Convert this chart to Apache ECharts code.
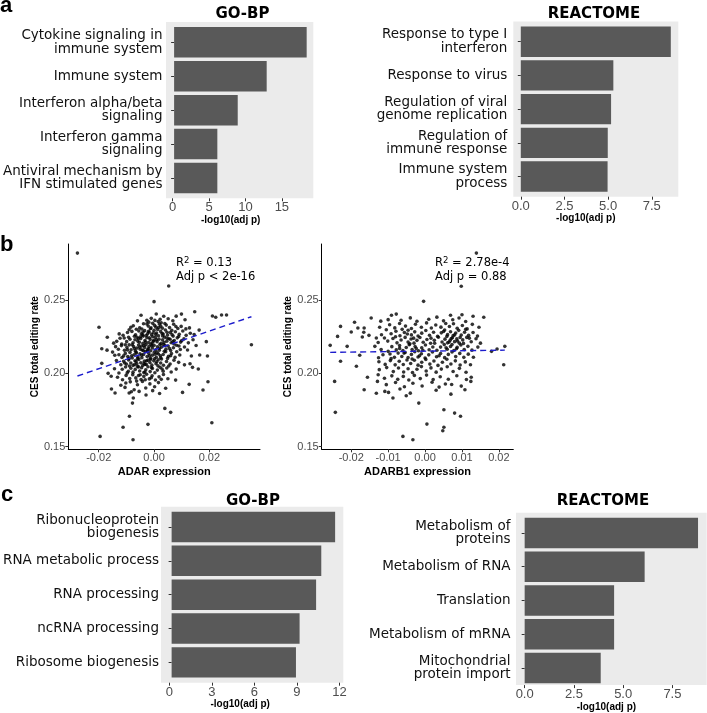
<!DOCTYPE html>
<html>
<head>
<meta charset="utf-8">
<script src="https://cdn.jsdelivr.net/npm/echarts@6/dist/echarts.min.js"></script>
<style>
html,body{margin:0;padding:0;background:#fff;}
#chart{width:707px;height:713px;}
</style>
</head>
<body>
<div id="chart"></div>
<script>
// ---------- Panel a (bar charts) ----------
const goA_terms = ["Cytokine signaling in\nimmune system","Immune system","Interferon alpha/beta\nsignaling","Interferon gamma\nsignaling","Antiviral mechanism by\nIFN stimulated genes"];
const goA_vals = [18.4, 12.85, 8.83, 6.0, 6.0];
const goA_ticks = [0, 5, 10, 15];

const reA_terms = ["Response to type I\ninterferon","Response to virus","Regulation of viral\ngenome replication","Regulation of\nimmune response","Immune system\nprocess"];
const reA_vals = [8.59, 5.30, 5.17, 4.98, 4.97];
const reA_ticks = [0, 2.5, 5, 7.5];

// ---------- Panel c (bar charts) ----------
const goC_terms = ["Ribonucleoprotein\nbiogenesis","RNA metabolic process","RNA processing","ncRNA processing","Ribosome biogenesis"];
const goC_vals = [11.69, 10.70, 10.33, 9.15, 8.89];
const goC_ticks = [0, 3, 6, 9, 12];

const reC_terms = ["Metabolism of\nproteins","Metabolism of RNA","Translation","Metabolism of mRNA","Mitochondrial\nprotein import"];
const reC_vals = [8.80, 6.09, 4.54, 4.54, 3.86];
const reC_ticks = [0, 2.5, 5, 7.5];

// ---------- Panel b (scatter plots) ----------
const scatterYTicks = [0.15, 0.20, 0.25];
const adarXTicks = [-0.02, 0.00, 0.02];
const adarb1XTicks = [-0.02, -0.01, 0.00, 0.01, 0.02];

// [ADAR expression, CES total editing rate]
const adarPoints = [
[-0.0277,0.2820],[0.0053,0.2596],[0.0000,0.2489],[-0.0199,0.2314],[-0.0169,0.2246],[-0.0189,0.2168],[-0.0170,0.2158],[-0.0189,0.2068],[-0.0166,0.2000],[-0.0154,0.1893],[-0.0141,0.1866],[-0.0089,0.1707],[-0.0112,0.1632],[-0.0195,0.1570],[-0.0076,0.1547],[-0.0022,0.1652],[-0.0078,0.1797],[-0.0075,0.1832],[-0.0054,0.1877],[-0.0029,0.1852],[-0.0047,0.2396],[0.0039,0.1761],[0.0060,0.1734],[0.0209,0.1663],[0.0352,0.2195],[0.0244,0.2398],[0.0262,0.2398],[0.0223,0.2382],[0.0211,0.2391],[0.0189,0.2216],[0.0193,0.2118],[0.0195,0.1943],[0.0177,0.1886],[0.0139,0.2041],[0.0127,0.1925],[0.0163,0.2295],[0.0165,0.2125],[0.0147,0.2420],[0.0099,0.2404],[0.0103,0.1870],[0.0042,0.1898],[0.0078,0.1954],[0.0093,0.2125],[0.0121,0.2159],[0.0135,0.2118],[-0.0082,0.1874],
[0.0145,0.2265],[0.0152,0.2190],[0.0130,0.2065],[0.0160,0.2030],
[-0.0010,0.2375],[0.0008,0.2405],[0.0022,0.2368],[0.0035,0.2389],[0.0051,0.2372],[0.0068,0.2359],[0.0080,0.2390],[-0.0026,0.2362],[0.0015,0.2354],[0.0112,0.2365],[-0.0060,0.2358],
[-0.0075,0.2325],[-0.0052,0.2310],[-0.0038,0.2338],[-0.0021,0.2322],[-0.0005,0.2341],[0.0007,0.2315],[0.0019,0.2336],[0.0030,0.2308],[0.0044,0.2329],[0.0056,0.2312],[0.0071,0.2335],[0.0086,0.2306],[0.0098,0.2320],[-0.0084,0.2314],[-0.0013,0.2304],[0.0026,0.2345],[-0.0044,0.2302],[0.0128,0.2310],[0.0002,0.2327],[-0.0090,0.2297],
[-0.0112,0.2260],[-0.0096,0.2278],[-0.0080,0.2286],[-0.0067,0.2263],[-0.0055,0.2289],[-0.0046,0.2270],[-0.0034,0.2291],[-0.0028,0.2258],[-0.0018,0.2280],[-0.0009,0.2264],[0.0000,0.2294],[0.0009,0.2275],[0.0016,0.2256],[0.0024,0.2286],[0.0033,0.2268],[0.0041,0.2296],[0.0049,0.2261],[0.0059,0.2279],[0.0069,0.2254],[0.0077,0.2284],[0.0091,0.2266],[0.0104,0.2289],[0.0116,0.2259],[-0.0071,0.2253],[-0.0039,0.2254],[-0.0003,0.2277],[0.0029,0.2272],[0.0064,0.2293],
[-0.0135,0.2218],[-0.0123,0.2239],[-0.0108,0.2241],[-0.0099,0.2216],[-0.0087,0.2232],[-0.0076,0.2208],[-0.0069,0.2229],[-0.0061,0.2246],[-0.0053,0.2212],[-0.0048,0.2237],[-0.0040,0.2205],[-0.0033,0.2224],[-0.0026,0.2243],[-0.0020,0.2210],[-0.0014,0.2230],[-0.0007,0.2207],[-0.0001,0.2226],[0.0005,0.2245],[0.0011,0.2215],[0.0018,0.2233],[0.0025,0.2204],[0.0031,0.2228],[0.0038,0.2247],[0.0046,0.2219],[0.0054,0.2236],[0.0062,0.2209],[0.0073,0.2224],[0.0084,0.2242],[0.0096,0.2213],[0.0108,0.2235],[0.0124,0.2208],[0.0141,0.2229],[-0.0117,0.2200],
[-0.0139,0.2182],[-0.0129,0.2164],[-0.0118,0.2189],[-0.0107,0.2157],[-0.0098,0.2176],[-0.0090,0.2194],[-0.0083,0.2161],[-0.0074,0.2183],[-0.0068,0.2153],[-0.0062,0.2172],[-0.0056,0.2193],[-0.0050,0.2164],[-0.0045,0.2186],[-0.0039,0.2155],[-0.0034,0.2177],[-0.0029,0.2196],[-0.0023,0.2162],[-0.0018,0.2184],[-0.0012,0.2154],[-0.0006,0.2173],[0.0000,0.2191],[0.0006,0.2160],[0.0012,0.2181],[0.0019,0.2158],[0.0027,0.2179],[0.0034,0.2197],[0.0043,0.2165],[0.0051,0.2186],[0.0060,0.2156],[0.0070,0.2174],[0.0081,0.2192],[0.0095,0.2163],[0.0110,0.2180],
[-0.0150,0.2145],[-0.0142,0.2123],[-0.0127,0.2127],[-0.0116,0.2108],[-0.0104,0.2136],[-0.0095,0.2114],[-0.0087,0.2142],[-0.0079,0.2105],[-0.0072,0.2127],[-0.0065,0.2146],[-0.0058,0.2112],[-0.0051,0.2133],[-0.0044,0.2107],[-0.0038,0.2129],[-0.0031,0.2148],[-0.0025,0.2115],[-0.0019,0.2136],[-0.0012,0.2103],[-0.0006,0.2124],[0.0001,0.2144],[0.0008,0.2110],[0.0016,0.2132],[0.0024,0.2106],[0.0033,0.2128],[0.0042,0.2147],[0.0052,0.2116],[0.0063,0.2135],[0.0076,0.2109],[-0.0090,0.2102],
[-0.0120,0.2059],[-0.0110,0.2082],[-0.0100,0.2063],[-0.0092,0.2091],[-0.0084,0.2070],[-0.0076,0.2054],[-0.0069,0.2086],[-0.0062,0.2065],[-0.0055,0.2095],[-0.0048,0.2072],[-0.0041,0.2053],[-0.0035,0.2083],[-0.0028,0.2061],[-0.0022,0.2090],[-0.0015,0.2074],[-0.0008,0.2056],[-0.0001,0.2085],[0.0007,0.2066],[0.0015,0.2093],[0.0024,0.2071],[0.0034,0.2055],[0.0045,0.2081],[0.0058,0.2064],[0.0072,0.2090],[0.0089,0.2075],[0.0110,0.2058],[-0.0136,0.2088],
[-0.0127,0.2002],[-0.0115,0.2028],[-0.0103,0.2043],[-0.0093,0.2014],[-0.0084,0.2035],[-0.0076,0.2008],[-0.0068,0.2027],[-0.0060,0.2046],[-0.0052,0.2016],[-0.0045,0.2038],[-0.0037,0.2006],[-0.0030,0.2024],[-0.0022,0.2045],[-0.0014,0.2012],[-0.0006,0.2033],[0.0003,0.2004],[0.0012,0.2022],[0.0022,0.2041],[0.0033,0.2015],[0.0046,0.2036],[0.0062,0.2009],[0.0080,0.2029],[-0.0143,0.2031],
[-0.0132,0.1973],[-0.0114,0.1956],[-0.0101,0.1986],[-0.0088,0.1964],[-0.0077,0.1991],[-0.0066,0.1969],[-0.0056,0.1985],[-0.0047,0.1958],[-0.0037,0.1979],[-0.0027,0.1994],[-0.0017,0.1962],[-0.0007,0.1984],[0.0005,0.1955],[0.0018,0.1976],[0.0034,0.1992],[0.0050,0.1963],[-0.0155,0.1980],
[-0.0102,0.1934],[-0.0105,0.1904],[-0.0060,0.1922],[-0.0042,0.1945],[-0.0030,0.1900],[-0.0086,0.1942],[-0.0015,0.1928],[0.0002,0.1909],[0.0016,0.1937],[-0.0120,0.1919],
[-0.0090,0.1866],[-0.0072,0.1888],[-0.0005,0.1882],[0.0020,0.1863],
[-0.0064,0.2301],[-0.0024,0.2269],[0.0013,0.2299],[0.0047,0.2240],[-0.0002,0.2219],[-0.0037,0.2190],[0.0021,0.2196],[-0.0059,0.2220],[0.0004,0.2130],[-0.0016,0.2119],[0.0037,0.2150],[-0.0043,0.2159],[-0.0071,0.2169],[0.0056,0.2169],[-0.0027,0.2086],[0.0010,0.2079],[-0.0056,0.2044],[-0.0009,0.2039],[0.0029,0.2030],[-0.0033,0.2009],[-0.0081,0.2120],[0.0068,0.2216],[0.0089,0.2251],[-0.0092,0.2246],[-0.0104,0.2195],[0.0003,0.2361],[0.0039,0.2340],[-0.0019,0.2349],[0.0079,0.2319],[-0.0005,0.2250],[0.0017,0.2313],[-0.0040,0.2282],[-0.0060,0.2100],[-0.0020,0.2169],[0.0023,0.2120],[0.0049,0.2102],[-0.0070,0.2060],[-0.0036,0.2069],[0.0002,0.2099],[0.0053,0.2050],[-0.0110,0.2119],[-0.0097,0.2003],[-0.0050,0.1990],[-0.0010,0.1970],[0.0026,0.1959],[-0.0063,0.1947],[-0.0032,0.1956],[0.0090,0.2186],[0.0100,0.2223],[0.0065,0.2264],[0.0115,0.2303],[0.0131,0.2273],[-0.0126,0.2269],[-0.0146,0.2206],[-0.0089,0.2050],[-0.0049,0.2249],[-0.0011,0.2199],[0.0036,0.2210],[0.0060,0.2120],[0.0082,0.2147],
[-0.0041,0.2262],[-0.0017,0.2243],[0.0009,0.2229],[-0.0031,0.2213],[-0.0008,0.2188],[0.0019,0.2171],[-0.0052,0.2178],[-0.0024,0.2152],[0.0011,0.2141],[-0.0045,0.2125],[-0.0013,0.2094],[0.0027,0.2098],[-0.0064,0.2138],[0.0040,0.2190],[0.0031,0.2255],[-0.0011,0.2310],[0.0047,0.2280],[-0.0057,0.2236],[-0.0079,0.2195],[-0.0033,0.2060],[0.0014,0.2051],[-0.0065,0.2080],[0.0058,0.2232],[0.0072,0.2200],[-0.0026,0.2337],[0.0024,0.2322],[-0.0096,0.2160],[-0.0106,0.2070],[0.0006,0.2265],[-0.0020,0.2287]
];
const adarFitX = [-0.0277, 0.0352];
const adarFitY = [0.1982, 0.2386];

// [ADARB1 expression, CES total editing rate]
const adarb1Points = [
[-0.0257,0.2191],[-0.0245,0.1945],[-0.0243,0.1734],[-0.0237,0.2252],[-0.0229,0.2320],[-0.0229,0.2082],[-0.0211,0.2184],[-0.0200,0.2282],[-0.0191,0.2348],[-0.0186,0.2048],[-0.0182,0.2309],[-0.0170,0.2248],[-0.0166,0.2280],[-0.0165,0.2309],[-0.0165,0.1888],[-0.0156,0.1973],[-0.0152,0.2259],[-0.0146,0.2377],[-0.0177,0.2123],[-0.0060,0.1570],[-0.0033,0.1547],[-0.0132,0.1864],[-0.0109,0.1877],[-0.0099,0.1870],[-0.0087,0.1832],[-0.0051,0.1847],[-0.0091,0.2396],[-0.0078,0.2404],[-0.0100,0.2366],[0.0139,0.2820],[0.0098,0.2594],[-0.0004,0.2491],[0.0216,0.2184],[0.0213,0.2059],[0.0195,0.2166],[0.0180,0.2150],[0.0159,0.2382],[0.0130,0.2389],[0.0100,0.2400],[0.0069,0.2396],[0.0124,0.1945],[0.0098,0.1913],[0.0055,0.1927],[-0.0017,0.1797],[0.0051,0.1752],[0.0080,0.1729],[0.0096,0.1707],[0.0005,0.1654],[0.0051,0.1632],[0.0048,0.1608],[0.0125,0.1973],
[-0.0065,0.2362],[-0.0040,0.2378],[-0.0022,0.2355],[0.0010,0.2369],[0.0032,0.2383],[0.0050,0.2358],[0.0075,0.2365],[0.0092,0.2377],[0.0110,0.2353],[-0.0120,0.2356],
[-0.0123,0.2314],[-0.0096,0.2331],[-0.0082,0.2310],[-0.0069,0.2340],[-0.0053,0.2322],[-0.0037,0.2306],[-0.0026,0.2335],[-0.0010,0.2314],[0.0004,0.2344],[0.0017,0.2309],[0.0029,0.2330],[0.0043,0.2315],[0.0056,0.2340],[0.0066,0.2319],[0.0077,0.2338],[0.0087,0.2307],[0.0101,0.2326],[0.0114,0.2303],[0.0128,0.2334],[0.0146,0.2314],
[-0.0118,0.2263],[-0.0105,0.2297],[-0.0092,0.2270],[-0.0079,0.2287],[-0.0068,0.2256],[-0.0056,0.2279],[-0.0046,0.2294],[-0.0037,0.2262],[-0.0028,0.2283],[-0.0019,0.2255],[-0.0009,0.2274],[0.0002,0.2292],[0.0012,0.2260],[0.0023,0.2280],[0.0034,0.2253],[0.0044,0.2276],[0.0053,0.2295],[0.0061,0.2264],[0.0069,0.2284],[0.0076,0.2257],[0.0083,0.2275],[0.0091,0.2293],[0.0098,0.2261],[0.0107,0.2280],[0.0118,0.2259],[0.0130,0.2278],[0.0142,0.2254],
[-0.0132,0.2241],[-0.0110,0.2241],[-0.0127,0.2210],[-0.0101,0.2220],[-0.0087,0.2238],[-0.0076,0.2208],[-0.0065,0.2227],[-0.0054,0.2245],[-0.0046,0.2213],[-0.0038,0.2234],[-0.0030,0.2206],[-0.0022,0.2225],[-0.0014,0.2244],[-0.0005,0.2212],[0.0005,0.2231],[0.0015,0.2205],[0.0025,0.2226],[0.0036,0.2246],[0.0046,0.2214],[0.0054,0.2233],[0.0061,0.2208],[0.0068,0.2225],[0.0074,0.2243],[0.0080,0.2216],[0.0086,0.2235],[0.0093,0.2206],[0.0102,0.2228],[0.0113,0.2245],[0.0125,0.2215],[0.0138,0.2236],[0.0150,0.2206],
[-0.0136,0.2184],[-0.0119,0.2163],[-0.0100,0.2150],[-0.0090,0.2182],[-0.0078,0.2160],[-0.0069,0.2189],[-0.0060,0.2156],[-0.0051,0.2176],[-0.0043,0.2195],[-0.0035,0.2162],[-0.0027,0.2183],[-0.0018,0.2154],[-0.0009,0.2174],[0.0001,0.2193],[0.0011,0.2161],[0.0021,0.2180],[0.0032,0.2157],[0.0042,0.2179],[0.0052,0.2196],[0.0060,0.2164],[0.0069,0.2183],[0.0078,0.2156],[0.0087,0.2177],[0.0097,0.2193],[0.0106,0.2162],[0.0116,0.2184],[0.0127,0.2158],[0.0143,0.2179],
[-0.0114,0.2127],[-0.0126,0.2106],[-0.0095,0.2132],[-0.0083,0.2109],[-0.0073,0.2138],[-0.0063,0.2115],[-0.0054,0.2142],[-0.0046,0.2108],[-0.0037,0.2129],[-0.0028,0.2147],[-0.0019,0.2111],[-0.0010,0.2134],[0.0000,0.2105],[0.0010,0.2126],[0.0020,0.2146],[0.0031,0.2113],[0.0042,0.2135],[0.0053,0.2107],[0.0063,0.2129],[0.0073,0.2146],[0.0083,0.2114],[0.0094,0.2136],[0.0105,0.2109],[0.0117,0.2131],[0.0131,0.2110],
[-0.0125,0.2079],[-0.0108,0.2061],[-0.0094,0.2087],[-0.0081,0.2058],[-0.0070,0.2082],[-0.0059,0.2060],[-0.0049,0.2091],[-0.0039,0.2067],[-0.0029,0.2089],[-0.0019,0.2056],[-0.0009,0.2076],[0.0002,0.2095],[0.0013,0.2063],[0.0024,0.2084],[0.0035,0.2054],[0.0047,0.2076],[0.0059,0.2096],[0.0070,0.2064],[0.0082,0.2085],[0.0095,0.2057],[0.0109,0.2078],[0.0123,0.2059],
[-0.0124,0.2025],[-0.0104,0.2039],[-0.0086,0.2012],[-0.0072,0.2036],[-0.0058,0.2009],[-0.0046,0.2031],[-0.0034,0.2005],[-0.0022,0.2028],[-0.0010,0.2046],[0.0003,0.2016],[0.0016,0.2037],[0.0030,0.2008],[0.0044,0.2029],[0.0060,0.2045],[0.0076,0.2013],[0.0093,0.2034],[0.0111,0.2007],
[-0.0127,0.1990],[-0.0110,0.1966],[-0.0090,0.1983],[-0.0074,0.1959],[-0.0059,0.1979],[-0.0044,0.1955],[-0.0029,0.1986],[-0.0013,0.1964],[0.0004,0.1988],[0.0022,0.1958],[0.0041,0.1977],[0.0063,0.1960],[0.0086,0.1984],[0.0112,0.1958],
[-0.0129,0.1945],[-0.0105,0.1923],[-0.0080,0.1938],[-0.0056,0.1909],[-0.0033,0.1932],[-0.0008,0.1914],[0.0019,0.1939],[0.0038,0.1906],[0.0072,0.1924],
[-0.0068,0.1893],[-0.0040,0.1865],[0.0030,0.1885],[0.0070,0.1858],[0.0108,0.1888],
[-0.0048,0.2268],[-0.0031,0.2240],[-0.0041,0.2201],[-0.0024,0.2170],[-0.0057,0.2138],[-0.0015,0.2120],[-0.0035,0.2098],[0.0059,0.2252],[0.0071,0.2238],[0.0080,0.2262],[0.0065,0.2213],[0.0088,0.2220],[0.0095,0.2245],[0.0073,0.2196],[0.0050,0.2285],[0.0104,0.2204],[0.0057,0.2174],[0.0085,0.2168],[-0.0069,0.2170],[-0.0080,0.2249],[0.0026,0.2205],[0.0016,0.2240],[-0.0006,0.2157],[0.0038,0.2120],[-0.0092,0.2100],[0.0110,0.2300],[0.0120,0.2240],[-0.0062,0.2300]
];
const adarb1FitX = [-0.0257, 0.0216];
const adarb1FitY = [0.2143, 0.2158];

// ---------- helpers ----------
const BAR_COLOR = '#595959';
const PANEL_BG = '#EBEBEB';
const TICK_COLOR = '#4D4D4D';
const CAT_FONT = 'DejaVu Sans';

const grids = [], xAxes = [], yAxes = [], series = [];

function barPanel(box, terms, vals, ticks, decimals, catMargin, nameGap, nameShift) {
  const vmax = Math.max.apply(null, vals);
  const mn = -0.05 * vmax, mx = 1.05 * vmax;
  const gBg = grids.length;
  grids.push({left: box.left, top: box.top, width: box.width, height: box.height,
    show: true, backgroundColor: PANEL_BG, borderWidth: 0, containLabel: false});
  xAxes.push({gridIndex: gBg, type: 'value', min: mn, max: mx,
    axisLine: {show: false}, splitLine: {show: false},
    axisTick: {show: true, length: 3, customValues: ticks, lineStyle: {color: '#333', width: 1}},
    axisLabel: {customValues: ticks, margin: 3, color: TICK_COLOR, fontSize: 13, fontFamily: 'Liberation Sans',
      formatter: v => v.toFixed(decimals)},
    name: '-log10(adj p)', nameLocation: 'middle', nameGap: nameGap,
    nameTextStyle: {fontSize: 10, fontWeight: 'bold', fontFamily: 'Liberation Sans', color: '#000',
      padding: [0, nameShift, 0, 0]}});
  yAxes.push({gridIndex: gBg, type: 'value', show: false, min: 0, max: 1});
  const inset = box.height * 0.1 / 5.2;
  const gB = grids.length;
  grids.push({left: box.left, top: box.top + inset, width: box.width, height: box.height - 2 * inset, containLabel: false});
  xAxes.push({gridIndex: gB, type: 'value', min: mn, max: mx, show: false});
  yAxes.push({gridIndex: gB, type: 'category', inverse: true, data: terms,
    axisLine: {show: false},
    axisTick: {show: true, length: 3, alignWithLabel: true, lineStyle: {color: '#333'}},
    axisLabel: {margin: catMargin, fontSize: 13.5, lineHeight: 13.5, color: '#111', fontFamily: CAT_FONT, align: 'right'}});
  series.push({type: 'bar', xAxisIndex: xAxes.length - 1, yAxisIndex: yAxes.length - 1,
    data: vals, barWidth: '90%', itemStyle: {color: BAR_COLOR}, silent: true});
}

function scatterPanel(box, xr, xticks, xname, points, fitX, fitY) {
  const g = grids.length;
  grids.push({left: box.left, top: box.top, width: box.width, height: box.height, containLabel: false});
  const common = {
    axisLine: {show: true, onZero: false, lineStyle: {color: '#000', width: 1}},
    splitLine: {show: false},
  };
  xAxes.push(Object.assign({gridIndex: g, type: 'value', min: xr[0], max: xr[1],
    axisTick: {show: true, length: 3, customValues: xticks, lineStyle: {color: '#333'}},
    axisLabel: {customValues: xticks, margin: 3, color: TICK_COLOR, fontSize: 11, fontFamily: 'Liberation Sans',
      formatter: v => v.toFixed(2)},
    name: xname, nameLocation: 'middle', nameGap: 17,
    nameTextStyle: {fontSize: 11, fontWeight: 'bold', fontFamily: 'Liberation Sans', color: '#000'}}, common));
  yAxes.push(Object.assign({gridIndex: g, type: 'value', min: 0.1482, max: 0.2882,
    axisTick: {show: true, length: 3, customValues: scatterYTicks, lineStyle: {color: '#333'}},
    axisLabel: {customValues: scatterYTicks, margin: 3, color: TICK_COLOR, fontSize: 11, fontFamily: 'Liberation Sans',
      formatter: v => v.toFixed(2)},
    name: 'CES total editing rate', nameLocation: 'middle', nameGap: 26, nameRotate: 90,
    nameTextStyle: {fontSize: 10, fontWeight: 'bold', fontFamily: 'Liberation Sans', color: '#000'}}, common));
  series.push({type: 'scatter', xAxisIndex: xAxes.length - 1, yAxisIndex: yAxes.length - 1,
    data: points, symbol: 'circle', symbolSize: 3.6, itemStyle: {color: '#000'}, silent: true});
  series.push({type: 'line', xAxisIndex: xAxes.length - 1, yAxisIndex: yAxes.length - 1,
    data: fitX.map((x, i) => [x, fitY[i]]), showSymbol: false, symbol: 'none', silent: true,
    lineStyle: {color: '#1c1ccc', width: 1.4, type: [6, 4]}});
}

barPanel({left: 166, top: 22, width: 147.3, height: 176.3}, goA_terms, goA_vals, goA_ticks, 0, 5, 13, 18);
barPanel({left: 513.3, top: 21.5, width: 165, height: 175.2}, reA_terms, reA_vals, reA_ticks, 1, 6, 13, 20);
scatterPanel({left: 68.3, top: 244, width: 191.7, height: 205.3}, [-0.0310, 0.0383], adarXTicks, 'ADAR expression', adarPoints, adarFitX, adarFitY);
scatterPanel({left: 321.7, top: 244, width: 191.6, height: 205.3}, [-0.0280, 0.0239], adarb1XTicks, 'ADARB1 expression', adarb1Points, adarb1FitX, adarb1FitY);
barPanel({left: 161, top: 506.7, width: 182.3, height: 176}, goC_terms, goC_vals, goC_ticks, 0, 4.5, 13, 24);
barPanel({left: 516, top: 512.7, width: 190.7, height: 175.6}, reC_terms, reC_vals, reC_ticks, 1, 5.5, 15, 10);

const titleStyle = {fontSize: 15, fontWeight: 'bold', fontFamily: 'DejaVu Sans', fill: '#000', align: 'center', verticalAlign: 'middle'};
const letterStyle = {fontSize: 22, fontWeight: 'bold', fontFamily: 'Liberation Sans', fill: '#000', verticalAlign: 'bottom'};
const annRich = {
  n: {fontSize: 11.5, fontFamily: 'DejaVu Sans', fill: '#000', lineHeight: 14},
  s: {fontSize: 8.5, fontFamily: 'DejaVu Sans', fill: '#000', lineHeight: 7, verticalAlign: 'top'}
};

const graphics = [
  {type: 'text', x: 0, y: 17, style: Object.assign({text: 'a'}, letterStyle)},
  {type: 'text', x: 0, y: 256, style: Object.assign({text: 'b'}, letterStyle)},
  {type: 'text', x: 1, y: 506, style: Object.assign({text: 'c'}, letterStyle)},
  {type: 'text', x: 242.5, y: 14.5, style: Object.assign({text: 'GO-BP'}, titleStyle)},
  {type: 'text', x: 594, y: 14, style: Object.assign({text: 'REACTOME'}, titleStyle)},
  {type: 'text', x: 253, y: 501, style: Object.assign({text: 'GO-BP'}, titleStyle)},
  {type: 'text', x: 603, y: 501, style: Object.assign({text: 'REACTOME'}, titleStyle)},
  {type: 'text', x: 176, y: 256, style: {text: '{n|R}{s|2}{n| = 0.13}\n{n|Adj p < 2e-16}', rich: annRich, verticalAlign: 'top'}},
  {type: 'text', x: 435, y: 256, style: {text: '{n|R}{s|2}{n| = 2.78e-4}\n{n|Adj p = 0.88}', rich: annRich, verticalAlign: 'top'}}
];

const chart = echarts.init(document.getElementById('chart'), null, {renderer: 'canvas'});
chart.setOption({
  animation: false,
  backgroundColor: '#fff',
  grid: grids, xAxis: xAxes, yAxis: yAxes, series: series,
  graphic: graphics
});
</script>
</body>
</html>
